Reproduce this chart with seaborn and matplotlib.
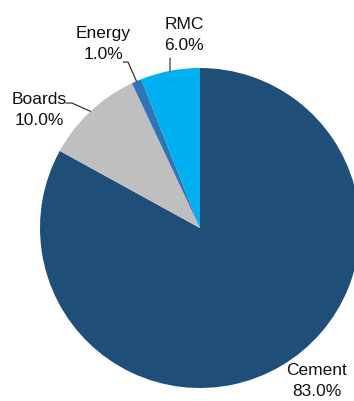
import numpy as np
import matplotlib
matplotlib.use("Agg")
import matplotlib.pyplot as plt
import seaborn as sns

categories = ["Cement", "Boards", "Energy", "RMC"]
shares = [83.0, 10.0, 1.0, 6.0]
colors = ["#1F4E79", "#BFBFBF", "#2E75B6", "#00B0F0"]

sns.set_theme(style="white")
plt.rcParams["font.family"] = ["Liberation Sans", "DejaVu Sans"]

fig = plt.figure(figsize=(3.54, 4.01), dpi=100)
ax = fig.add_axes([40 / 354, 13 / 401, 320 / 354, 320 / 401])
wedges, _ = ax.pie(shares, colors=colors, startangle=90, counterclock=False,
                   radius=1.0, wedgeprops=dict(linewidth=0))
ax.set_xlim(-1, 1)
ax.set_ylim(-1, 1)
ax.set_aspect("equal")
ax.axis("off")

# label anchor positions (data units) and leader elbow points
label_pos = {
    "Cement": (0.73, -0.956),
    "Boards": (-1.006, 0.7375),
    "Energy": (-0.606, 1.15),
    "RMC": (-0.10, 1.206),
}
leaders = {
    "Boards": [(-0.8375, 0.781), (-0.80, 0.781)],
    "Energy": [(-0.481, 1.0375), (-0.45, 1.0375)],
    "RMC": [(-0.1875, 1.0625)],
}

for w, cat, val in zip(wedges, categories, shares):
    mid = np.deg2rad((w.theta1 + w.theta2) / 2)
    edge = (np.cos(mid), np.sin(mid))
    x, y = label_pos[cat]
    ax.text(x, y, f"{cat}\n{val:.1f}%", ha="center", va="center",
            fontsize=12.5, linespacing=1.5, color="#111111", clip_on=False)
    if cat in leaders:
        pts = leaders[cat] + [edge]
        xs, ys = zip(*pts)
        ax.plot(xs, ys, color="#222222", linewidth=0.8, clip_on=False)

fig.savefig("out.png", dpi=100)
